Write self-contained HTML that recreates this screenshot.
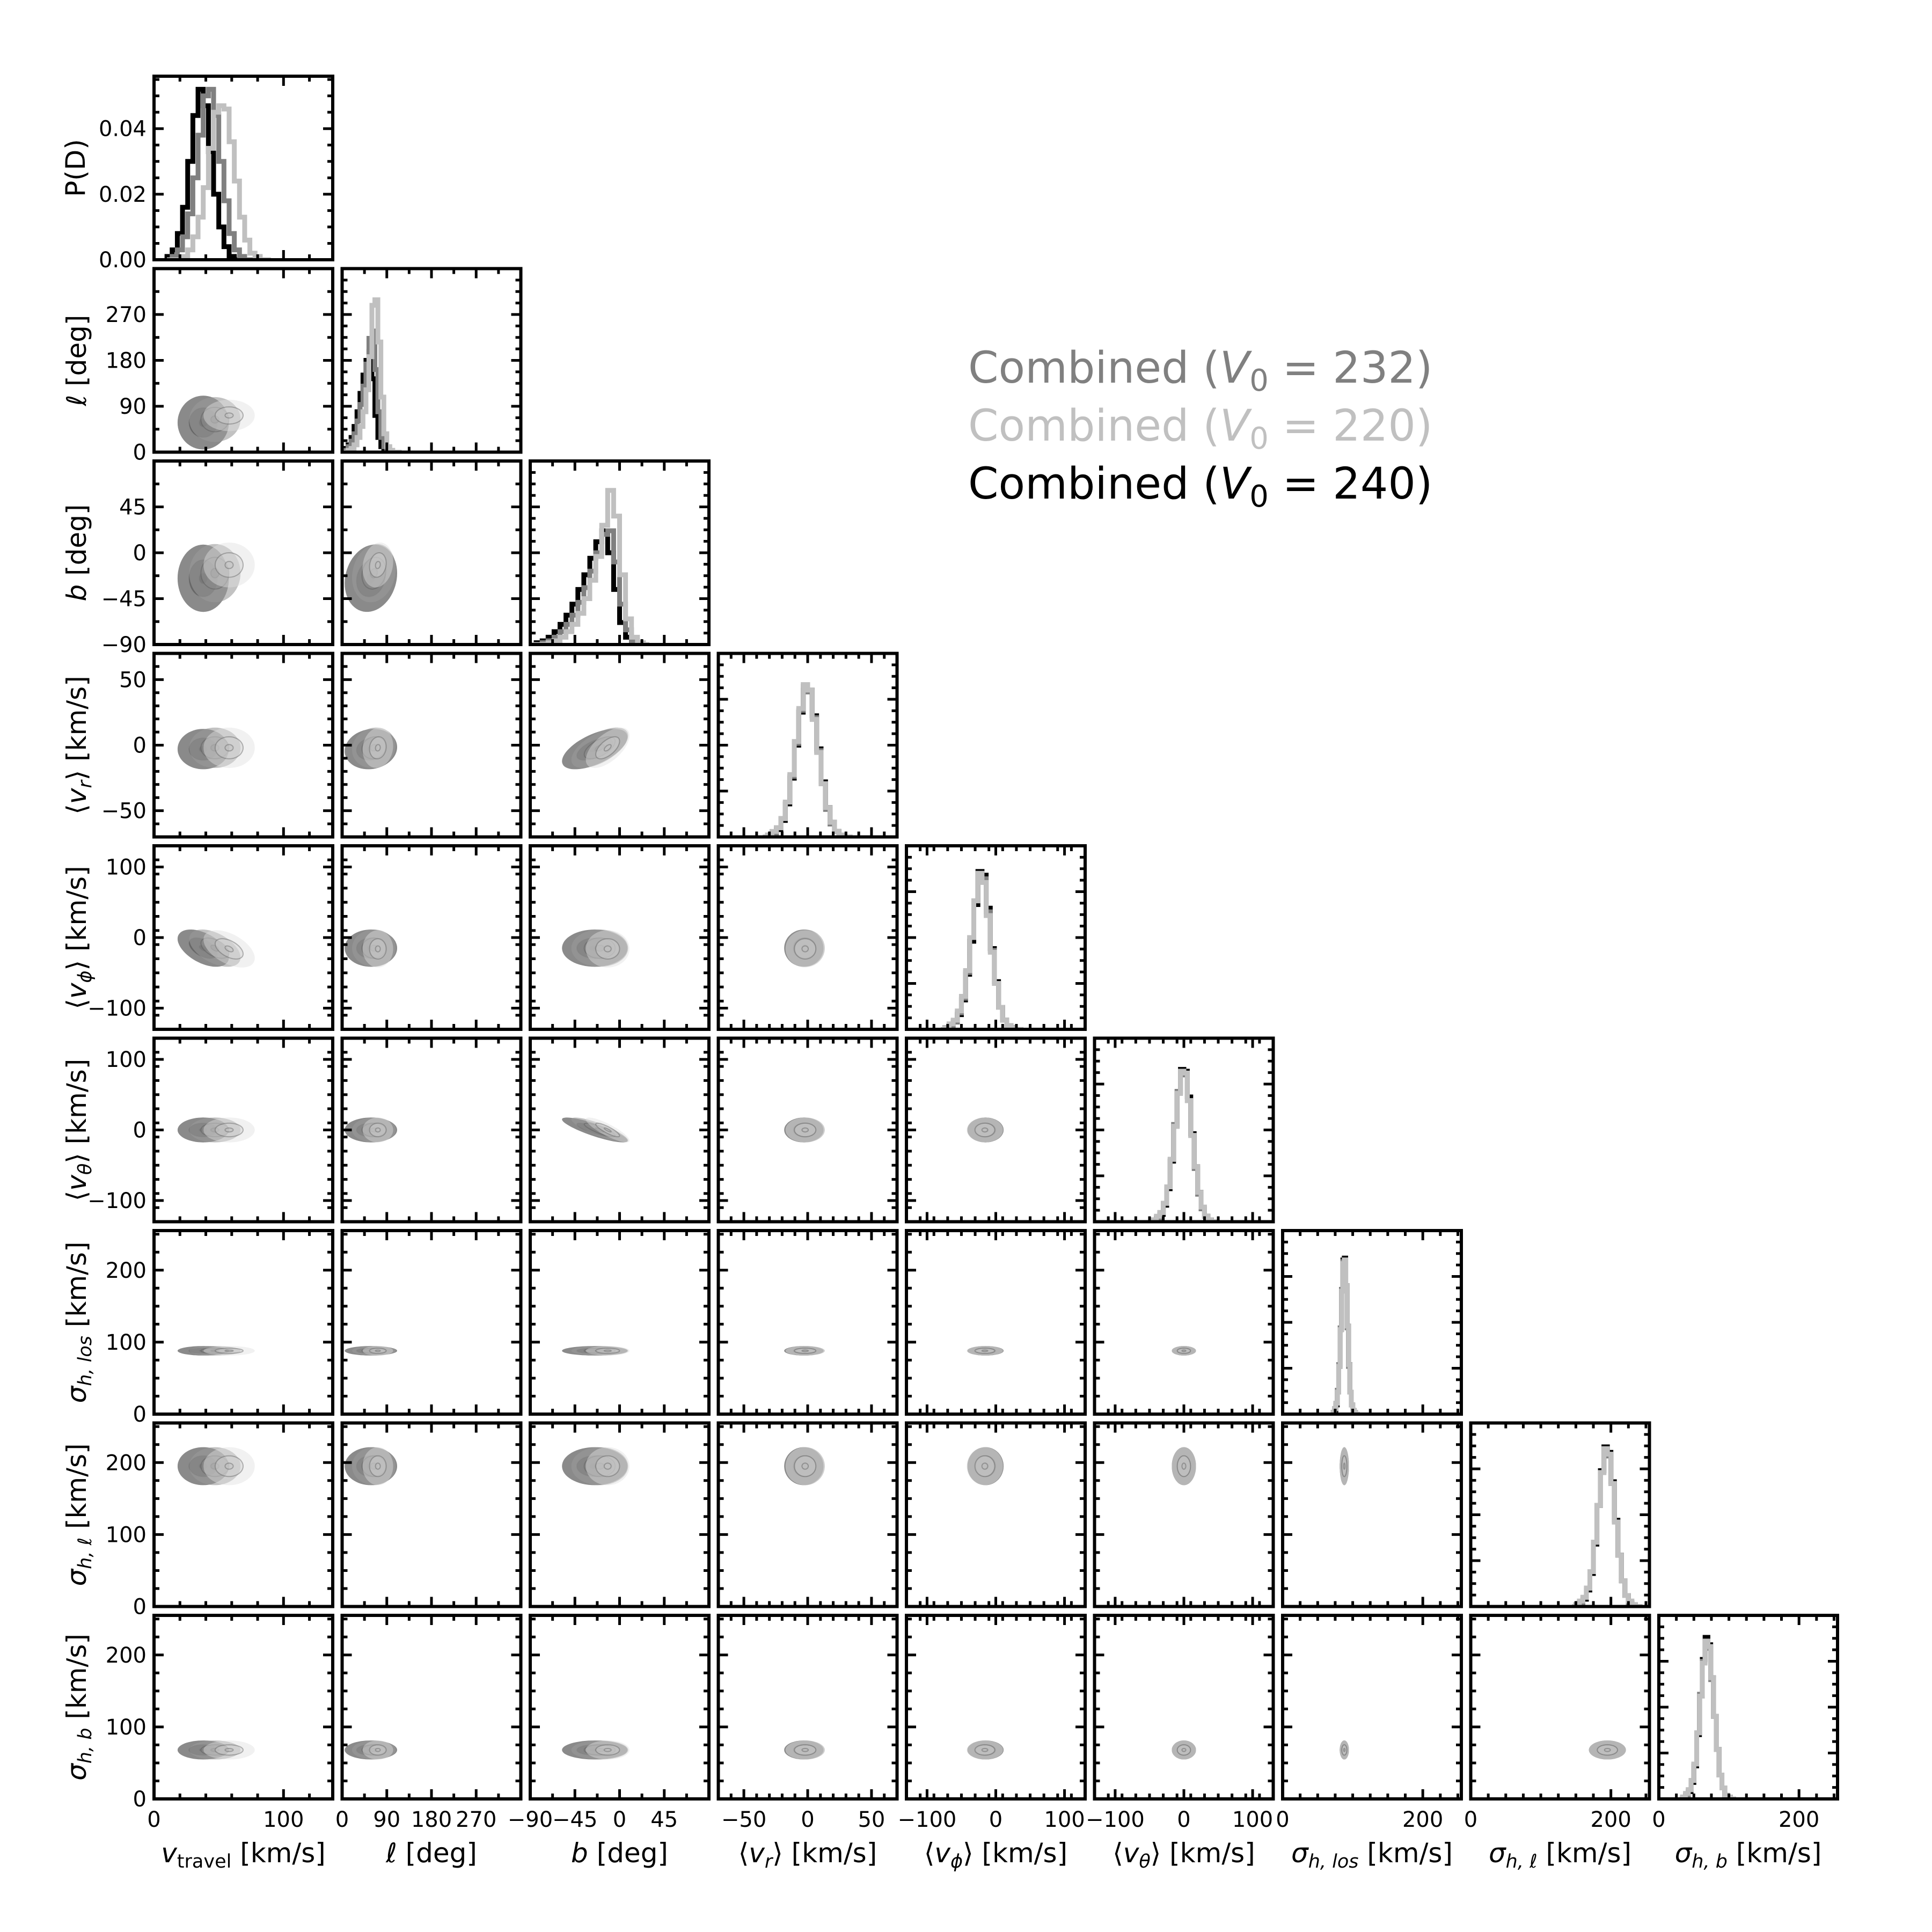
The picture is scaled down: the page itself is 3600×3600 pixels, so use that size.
<!DOCTYPE html>
<html><head><meta charset="utf-8">
<style>
html,body{margin:0;padding:0;background:#fff;}
svg{display:block;}
text{font-family:"DejaVu Sans","Liberation Sans",sans-serif;}
</style></head>
<body>
<svg id="fig" xmlns="http://www.w3.org/2000/svg" width="3600" height="3600" viewBox="0 0 3600 3600">
<rect x="0" y="0" width="3600" height="3600" fill="#fff"/>
<g font-size="81">
<text x="1804" y="713" fill="#808080">Combined (<tspan font-style="italic">V</tspan><tspan font-size="56" dy="15">0</tspan><tspan dy="-15"> = 232)</tspan></text>
<text x="1804" y="821" fill="#c0c0c0">Combined (<tspan font-style="italic">V</tspan><tspan font-size="56" dy="15">0</tspan><tspan dy="-15"> = 220)</tspan></text>
<text x="1804" y="929" fill="#000000">Combined (<tspan font-style="italic">V</tspan><tspan font-size="56" dy="15">0</tspan><tspan dy="-15"> = 240)</tspan></text>
</g>
</svg>
<script>
// ---- data ----
const paramLo = [0, 0, -90, -70, -130, -130, 0, 0, 0];
const paramHi = [138, 360, 90, 70, 130, 130, 255, 255, 255];
const majorTicks = [[0,100],[0,90,180,270],[-90,-45,0,45],[-50,0,50],[-100,0,100],[-100,0,100],[0,100,200],[0,100,200],[0,100,200]];
const xMajorTicks = [[0,100],[0,90,180,270],[-90,-45,0,45],[-50,0,50],[-100,0,100],[-100,0,100],[0,200],[0,200],[0,200]];
const minorStep = [20,45,22.5,10,20,20,25,25,25];
const pdTicks = [0.00,0.02,0.04];
const pdTickLabels = ["0.00","0.02","0.04"];
const pdMax = 0.056;

const binStart = [10, 0, -90, -35, -80, -50, 70, 145, 30];
const binWidth = [4, 6, 6, 3.5, 6, 5, 2, 5, 4];
const histBlack = [
 [0.001,0.003,0.008,0.016,0.030,0.044,0.052,0.047,0.033,0.020,0.010,0.004,0.001,0,0,0,0,0,0,0],
 [0.01,0.02,0.04,0.08,0.14,0.22,0.32,0.42,0.50,0.55,0.40,0.20,0.08,0.03,0.01,0,0,0,0,0],
 [0,0.01,0.02,0.04,0.07,0.11,0.16,0.22,0.30,0.38,0.47,0.56,0.62,0.50,0.30,0.12,0.04,0.01,0,0],
 [0,0.01,0.02,0.04,0.09,0.18,0.32,0.50,0.68,0.80,0.80,0.66,0.48,0.30,0.16,0.08,0.03,0.01,0,0],
 [0,0.01,0.02,0.04,0.08,0.16,0.30,0.48,0.68,0.86,0.84,0.66,0.44,0.26,0.12,0.05,0.02,0.01,0,0],
 [0,0.01,0.02,0.04,0.09,0.18,0.33,0.52,0.70,0.83,0.82,0.68,0.48,0.30,0.16,0.07,0.03,0.01,0,0],
 [0,0.01,0.02,0.05,0.12,0.26,0.46,0.68,0.84,0.85,0.70,0.48,0.27,0.12,0.05,0.02,0.01,0,0,0],
 [0,0.01,0.02,0.04,0.09,0.18,0.34,0.55,0.74,0.87,0.84,0.68,0.47,0.28,0.14,0.06,0.02,0.01,0,0],
 [0,0.01,0.02,0.04,0.09,0.18,0.35,0.56,0.76,0.88,0.84,0.66,0.45,0.27,0.13,0.06,0.02,0.01,0,0]
];
const histGray = [
 [0,0.001,0.003,0.007,0.014,0.025,0.038,0.050,0.052,0.044,0.030,0.018,0.008,0.003,0.001,0,0,0,0,0],
 [0,0.01,0.03,0.06,0.10,0.17,0.26,0.36,0.48,0.62,0.66,0.45,0.22,0.08,0.03,0.01,0,0,0,0],
 [0,0,0.01,0.02,0.04,0.07,0.11,0.16,0.23,0.31,0.40,0.50,0.60,0.62,0.45,0.22,0.08,0.02,0,0],
 [0,0.01,0.02,0.05,0.10,0.19,0.33,0.51,0.69,0.82,0.79,0.65,0.47,0.29,0.15,0.07,0.03,0.01,0,0],
 [0,0.01,0.02,0.04,0.09,0.17,0.31,0.50,0.70,0.84,0.82,0.64,0.43,0.25,0.12,0.05,0.02,0,0,0],
 [0,0.01,0.02,0.05,0.10,0.19,0.34,0.53,0.71,0.82,0.80,0.66,0.47,0.29,0.15,0.07,0.03,0.01,0,0],
 [0,0.01,0.03,0.06,0.13,0.27,0.47,0.68,0.83,0.84,0.69,0.47,0.26,0.12,0.05,0.02,0.01,0,0,0],
 [0,0.01,0.02,0.05,0.10,0.19,0.35,0.55,0.73,0.85,0.82,0.67,0.46,0.28,0.14,0.06,0.02,0.01,0,0],
 [0,0.01,0.02,0.05,0.10,0.19,0.36,0.57,0.75,0.85,0.82,0.65,0.45,0.27,0.13,0.06,0.02,0.01,0,0]
];
const histLight = [
 [0,0,0,0.001,0.003,0.007,0.013,0.022,0.034,0.045,0.047,0.046,0.036,0.024,0.013,0.006,0.002,0.001,0,0],
 [0,0,0.01,0.02,0.04,0.08,0.14,0.22,0.34,0.52,0.80,0.83,0.60,0.30,0.10,0.03,0.01,0,0,0],
 [0,0,0,0.01,0.02,0.04,0.07,0.11,0.17,0.25,0.35,0.48,0.65,0.84,0.70,0.38,0.14,0.04,0.01,0],
 [0,0.01,0.03,0.05,0.10,0.19,0.34,0.52,0.70,0.83,0.80,0.64,0.46,0.29,0.16,0.08,0.03,0.01,0,0],
 [0,0.01,0.03,0.05,0.10,0.18,0.32,0.50,0.70,0.85,0.80,0.62,0.42,0.25,0.12,0.05,0.02,0.01,0,0],
 [0,0.01,0.03,0.05,0.10,0.19,0.34,0.52,0.70,0.82,0.81,0.66,0.47,0.30,0.16,0.08,0.03,0.01,0,0],
 [0,0.01,0.03,0.06,0.12,0.26,0.46,0.67,0.82,0.84,0.70,0.48,0.27,0.12,0.05,0.02,0.01,0,0,0],
 [0,0.01,0.03,0.05,0.10,0.19,0.35,0.55,0.73,0.86,0.83,0.67,0.46,0.28,0.14,0.06,0.03,0.01,0,0],
 [0,0.01,0.03,0.05,0.10,0.19,0.36,0.56,0.74,0.86,0.83,0.66,0.45,0.27,0.13,0.06,0.02,0.01,0,0]
];
const meanBlack = [38, 58, -25, -3, -15, 0, 88, 195, 68];
const meanGray  = [47, 64, -20, -2, -15, 0, 88, 195, 68];
const meanLight = [58, 72, -12, -2, -16, 0, 88, 195, 68];
const sigBlack = [9, 24, 15, 7, 12, 8, 3, 12, 6];
const sigGray  = [9, 20, 13, 7, 12, 8, 3, 12, 6];
const sigLight = [9, 14, 10, 7, 12, 8, 3, 12, 6];
const corrRow = [4, 5, 3, 2, 3];
const corrCol = [0, 2, 2, 1, 1];
const corrVal = [-0.5, -0.85, 0.6, 0.15, 0.1];

// ---- layout ----
const NS = "http://www.w3.org/2000/svg";
const svgRoot = document.getElementById('fig');
const L0 = 287, T0 = 142, DX = 350.5, DY = 358.5, PW = 333, PH = 342;
const panelLeft = c => L0 + c*DX, panelTop = r => T0 + r*DY;
const px = (c, v) => panelLeft(c) + (v - paramLo[c])/(paramHi[c]-paramLo[c])*PW;
const pyP = (r, v) => panelTop(r) + PH - (v - paramLo[r])/(paramHi[r]-paramLo[r])*PH;
function mk(tag, attrs, parent){ const e=document.createElementNS(NS,tag); for(const k in attrs) e.setAttribute(k,attrs[k]); (parent||svgRoot).appendChild(e); return e; }
function fmt(v){ return (v<0?"\u2212":"")+Math.abs(v); }

const seriesMeans=[meanBlack,meanGray,meanLight], seriesSig=[sigBlack,sigGray,sigLight], seriesHist=[histBlack,histGray,histLight];
const seriesKeys=['v240','v232','v220'];
const lineColors=['#000000','#808080','#c0c0c0'];
const fillLevels=[['#8a8a8a','#6a6a6a','#4a4a4a'],['#9a9a9a','#8a8a8a','#7a7a7a'],['#e0e0e0','#d0d0d0','#c0c0c0']];
const fillOp=[1,0.6,0.45];
const kLevels=[2.2,1.2,0.35];

function rhoFor(r,c){ for(let i=0;i<corrRow.length;i++) if(corrRow[i]===r&&corrCol[i]===c) return corrVal[i]; return 0; }

const axisLabels=[
 ['v','travel',' [km/s]','it-sub'],['ℓ','',' [deg]','it'],['b','',' [deg]','it'],
 ['⟨v','r','⟩ [km/s]','br'],['⟨v','ϕ','⟩ [km/s]','br'],['⟨v','θ','⟩ [km/s]','br'],
 ['σ','h, los',' [km/s]','sig'],['σ','h, ℓ',' [km/s]','sig'],['σ','h, b',' [km/s]','sig']];
function labelText(t, idx, x, y, rot){
  const lab=axisLabels[idx];
  const el=mk('text',{x:x,y:y,'font-size':50,'text-anchor':'middle'}, t);
  if(rot) el.setAttribute('transform','rotate(-90 '+x+' '+y+')');
  if(lab[3]==='br'){
    mk('tspan',{},el).textContent='⟨';
    mk('tspan',{'font-style':'italic'},el).textContent='v';
    mk('tspan',{'font-style':'italic','font-size':35,dy:10},el).textContent=lab[1];
    mk('tspan',{dy:-10},el).textContent=lab[2];
  } else {
    mk('tspan',{'font-style':'italic'},el).textContent=lab[0];
    if(lab[1]){ const s=mk('tspan',{'font-size':35,dy:10},el); s.textContent=lab[1]; if(lab[3]==='sig') s.setAttribute('font-style','italic'); mk('tspan',{dy:-10},el).textContent=lab[2]; }
    else mk('tspan',{},el).textContent=lab[2];
  }
  return el;
}

for(let r=0;r<9;r++){
 for(let c=0;c<=r;c++){
  const g=mk('g',{});
  
  
  const cid='clip'+r+'_'+c;
  const cp=mk('clipPath',{id:cid},g); mk('rect',{x:panelLeft(c),y:panelTop(r),width:PW,height:PH},cp);
  const plot=mk('g',{'clip-path':'url(#'+cid+')'},g);
  if(r===c){
    const ymax = r===0 ? pdMax : 1;
    for(let s=0;s<3;s++){
      const vals=seriesHist[s][c];
      const y0=panelTop(r)+PH;
      let d='M'+px(c,binStart[c])+','+y0;
      for(let k=0;k<vals.length;k++){
        const xa=px(c,binStart[c]+k*binWidth[c]), xb=px(c,binStart[c]+(k+1)*binWidth[c]);
        const yv=panelTop(r)+PH-vals[k]/ymax*PH;
        d+=' L'+xa+','+yv+' L'+xb+','+yv;
      }
      d+=' L'+px(c,binStart[c]+vals.length*binWidth[c])+','+y0;
      const p=mk('path',{d:d,fill:'none',stroke:lineColors[s],'stroke-width':9,'stroke-linejoin':'miter'},plot);
      
      
    }
  } else {
    const rho=rhoFor(r,c), sq=Math.sqrt(1-rho*rho);
    for(let s=0;s<3;s++){
      const mx=seriesMeans[s][c], my=seriesMeans[s][r], sx=seriesSig[s][c], sy=seriesSig[s][r];
      for(let li=0;li<3;li++){
        const k=kLevels[li]; let pts=[];
        for(let t=0;t<64;t++){ const a=t/64*2*Math.PI;
          const vx=mx+k*sx*Math.cos(a), vy=my+k*sy*(rho*Math.cos(a)+sq*Math.sin(a));
          pts.push(px(c,vx).toFixed(1)+','+pyP(r,vy).toFixed(1)); }
        const e=mk('polygon',{points:pts.join(' '),fill:fillLevels[s][li],'fill-opacity':fillOp[s],stroke:li>0?'#555':'none','stroke-opacity':0.4,'stroke-width':2},plot);
        
        
      }
    }
  }
  const fr=mk('rect',{x:panelLeft(c),y:panelTop(r),width:PW,height:PH,fill:'none',stroke:'#000','stroke-width':6},g);
  
  
  let tk='';
  const xmaj = r===8 ? xMajorTicks[c] : majorTicks[c];
  for(const v of xMajorTicks[c]){ const x=px(c,v); tk+='M'+x+','+(panelTop(r)+PH)+'v-18M'+x+','+panelTop(r)+'v18'; }
  for(let v=paramLo[c];v<=paramHi[c];v+=minorStep[c]){ const x=px(c,v); tk+='M'+x+','+(panelTop(r)+PH)+'v-10M'+x+','+panelTop(r)+'v10'; }
  if(r===0){
    for(const v of pdTicks){ const y=panelTop(r)+PH-v/pdMax*PH; tk+='M'+panelLeft(c)+','+y+'h18M'+(panelLeft(c)+PW)+','+y+'h-18'; }
    for(let v=0;v<=pdMax;v+=0.005){ const y=panelTop(r)+PH-v/pdMax*PH; tk+='M'+panelLeft(c)+','+y+'h10M'+(panelLeft(c)+PW)+','+y+'h-10'; }
  } else if(r===c){
    for(let v=0;v<=1;v+=0.25){ const y=panelTop(r)+PH-v*PH; tk+='M'+panelLeft(c)+','+y+'h18M'+(panelLeft(c)+PW)+','+y+'h-18'; }
    for(let v=0;v<=1;v+=0.0625){ const y=panelTop(r)+PH-v*PH; tk+='M'+panelLeft(c)+','+y+'h10M'+(panelLeft(c)+PW)+','+y+'h-10'; }
  } else {
    for(const v of majorTicks[r]){ const y=pyP(r,v); tk+='M'+panelLeft(c)+','+y+'h18M'+(panelLeft(c)+PW)+','+y+'h-18'; }
    for(let v=paramLo[r];v<=paramHi[r];v+=minorStep[r]){ const y=pyP(r,v); tk+='M'+panelLeft(c)+','+y+'h10M'+(panelLeft(c)+PW)+','+y+'h-10'; }
  }
  const tp=mk('path',{d:tk,stroke:'#000','stroke-width':5,fill:'none'},g);
  
  
  if(r===8){
    for(const v of xmaj){ const t=mk('text',{x:px(c,v),y:panelTop(r)+PH+52,'font-size':40,'text-anchor':'middle'},g); t.textContent=fmt(v);
      
       }
    const xl=labelText(g,c,panelLeft(c)+PW/2,3470,false);
    
    
  }
  if(c===0){
    if(r===0){
      pdTicks.forEach((v,i)=>{ const t=mk('text',{x:panelLeft(0)-14,y:panelTop(0)+PH-v/pdMax*PH+14,'font-size':40,'text-anchor':'end'},g); t.textContent=pdTickLabels[i];
        
         });
      const yl=mk('text',{x:158,y:panelTop(0)+PH/2,'font-size':50,'text-anchor':'middle',transform:'rotate(-90 158 '+(panelTop(0)+PH/2)+')'},g);
      yl.textContent='P(D)';
      
      
    } else {
      for(const v of majorTicks[r]){ const t=mk('text',{x:panelLeft(0)-14,y:pyP(r,v)+14,'font-size':40,'text-anchor':'end'},g); t.textContent=fmt(v);
        
         }
      const yl=labelText(g,r,160,panelTop(r)+PH/2,true);
      
      
    }
  }
 }
}
</script>
</body></html>
